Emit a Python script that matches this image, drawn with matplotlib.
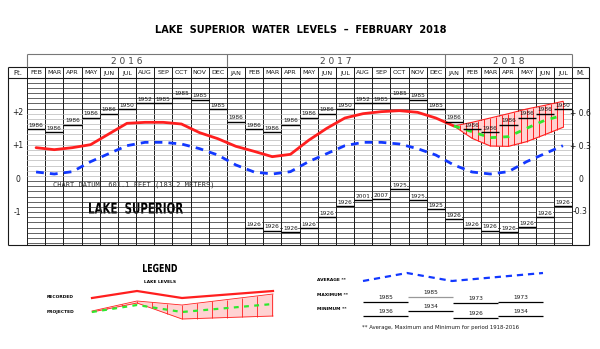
import numpy as np
import matplotlib
matplotlib.use("Agg")
import matplotlib.pyplot as plt
from matplotlib.transforms import blended_transform_factory, Affine2D
from matplotlib.textpath import TextPath
from matplotlib.patches import PathPatch
from matplotlib.font_manager import FontProperties

# --- data (feet above chart datum) -----------------------------------

MONTHS = ["FEB", "MAR", "APR", "MAY", "JUN", "JUL", "AUG", "SEP", "OCT", "NOV", "DEC",
          "JAN", "FEB", "MAR", "APR", "MAY", "JUN", "JUL", "AUG", "SEP", "OCT", "NOV", "DEC",
          "JAN", "FEB", "MAR", "APR", "MAY", "JUN", "JUL"]
YEARS = ["2 0 1 6", "2 0 1 7", "2 0 1 8"]
YEAR_COLS = [11, 12, 7]

# monthly mean levels, FEB 2016 .. JAN 2018
recorded = [0.94, 0.88, 0.94, 1.03, 1.35, 1.67, 1.70, 1.70, 1.65, 1.39, 1.21,
            0.98, 0.83, 0.67, 0.74, 1.16, 1.52, 1.83, 1.96, 2.02, 2.05, 2.00, 1.83,
            1.59]

# long-term average, one value per column
average = [0.21, 0.15, 0.22, 0.52, 0.76, 1.00, 1.10, 1.10, 1.05, 0.91, 0.72,
           0.42, 0.21, 0.15, 0.22, 0.52, 0.76, 1.00, 1.10, 1.10, 1.05, 0.91, 0.72,
           0.42, 0.21, 0.15, 0.22, 0.52, 0.76, 1.00]

# 6-month outlook, JAN 2018 .. JUL 2018
proj_mid = [1.59, 1.42, 1.24, 1.27, 1.52, 1.76, 1.91]
proj_hi = [1.59, 1.70, 1.83, 1.96, 2.10, 2.21, 2.33]
proj_lo = [1.59, 1.22, 0.99, 0.98, 1.12, 1.33, 1.55]

max_level = [1.50, 1.40, 1.63, 1.84, 1.96, 2.10, 2.27, 2.27, 2.44, 2.38, 2.10,
             1.72, 1.50, 1.40, 1.63, 1.84, 1.96, 2.10, 2.27, 2.27, 2.44, 2.38, 2.10,
             1.72, 1.50, 1.40, 1.63, 1.84, 1.96, 2.10]
max_year = ["1986", "1986", "1986", "1986", "1986", "1950", "1952", "1985", "1985", "1985", "1985",
            "1986", "1986", "1986", "1986", "1986", "1986", "1950", "1952", "1985", "1985", "1985", "1985",
            "1986", "1986", "1986", "1986", "1986", "1986", "1950"]

# minimum records are only printed from FEB 2017 on
min_first_col = 12
min_level = [-1.48, -1.55, -1.60, -1.48, -1.15, -0.82, -0.64, -0.61, -0.30, -0.64, -0.91,
             -1.21, -1.48, -1.55, -1.60, -1.45, -1.15, -0.82]
min_year = ["1926", "1926", "1926", "1926", "1926", "1926", "2001", "2007", "1925", "1925", "1925",
            "1926", "1926", "1926", "1926", "1926", "1926", "1926"]

FT_TICKS = [2, 1, 0, -1]
FT_LABELS = ["+2", "+1", "0", "-1"]
M_TICKS = [0.6, 0.3, 0.0, -0.3]
M_LABELS = ["+ 0.6", "+ 0.3", "0", "-0.3"]

# legend samples
leg_x = [92, 137, 182, 273]
leg_rec = [298, 291, 298, 291]
leg_hi = [311, 301, 305, 294]
leg_lo = [312, 303, 319, 316]
leg_mid = [312, 305, 312, 304]

key_x = [363, 407, 452, 543]
key_avg = [281, 273, 281, 273]
key_max = [302, 297, 303, 302]
key_max_year = ["1985", "1985", "1973", "1973"]
key_min = [316, 311, 318, 316]
key_min_year = ["1936", "1934", "1926", "1934"]

# --- layout (pixels) -------------------------------------------------
W, H = 600, 349
X0, X1 = 27, 572           # plot columns
XL, XR = 8, 589            # outer frame incl. Ft / M columns
Y_YEAR, Y_HEAD, Y_TOP, Y_BOT = 54, 67, 78, 245
NCOL = len(MONTHS)
COLW = (X1 - X0) / NCOL

RED = "#ff1f1f"
BLUE = "#1238ff"
GREEN = "#2ee82e"
INK = "#1a1a1a"
YR_FS = 4.2


def squeezed(ax, x, y, s, width, cap):
    # bold text forced into a given box (pixels, y pointing down), left/middle anchored
    tp = TextPath((0, 0), s, size=1, prop=FontProperties(family="DejaVu Sans", weight="bold"))
    ext = tp.get_extents()
    sx = width / ext.width
    sy = cap / 0.73
    tr = Affine2D().translate(-ext.x0, 0).scale(sx, -sy).translate(x, y + cap / 2)
    ax.add_patch(PathPatch(tr.transform_path(tp), fc="black", ec="none"))


fig = plt.figure(figsize=(W / 100, H / 100), dpi=100)
bg = fig.add_axes([0, 0, 1, 1])
bg.set_xlim(0, W)
bg.set_ylim(H, 0)
bg.axis("off")

ax = fig.add_axes([X0 / W, (H - Y_BOT) / H, (X1 - X0) / W, (Y_BOT - Y_TOP) / H])
ax.set_xlim(0, NCOL)
ax.set_ylim(-1.98, 3.03)
ax.axis("off")
ax.patch.set_alpha(0)

# horizontal rulings
for y in np.arange(-1.92, 3.0, 0.155):
    c = "#b8b8b8" if 0 < y < 2 else "#262626"
    ax.axhline(y, color=c, lw=0.5, zorder=1)

# frame and column rules
bg.hlines([Y_HEAD, Y_TOP, Y_BOT], XL, XR, color=INK, lw=0.8)
bg.hlines(Y_YEAR, X0, X1, color="#777777", lw=0.8)
bg.vlines([XL, XR], Y_HEAD, Y_BOT, color=INK, lw=0.8)
for i in range(NCOL + 1):
    bg.vlines(X0 + i * COLW, Y_HEAD, Y_BOT, color=INK, lw=0.7)
edges = np.cumsum([0] + YEAR_COLS)
for e in edges:
    bg.vlines(X0 + e * COLW, Y_YEAR, Y_HEAD, color="#777777", lw=0.8)

# header text
for k, lab in enumerate(YEARS):
    xc = X0 + (edges[k] + edges[k + 1]) / 2 * COLW
    bg.text(xc, (Y_YEAR + Y_HEAD) / 2 + 0.5, lab, ha="center", va="center",
            fontsize=6.5, color="#444444")
for i, m in enumerate(MONTHS):
    bg.text(X0 + (i + 0.5) * COLW, (Y_HEAD + Y_TOP) / 2 + 0.5, m, ha="center",
            va="center", fontsize=4.6, color=INK)
bg.text((XL + X0) / 2, (Y_HEAD + Y_TOP) / 2 + 0.5, "Ft.", ha="center", va="center",
        fontsize=5, color=INK)
bg.text((X1 + XR) / 2, (Y_HEAD + Y_TOP) / 2 + 0.5, "M.", ha="center", va="center",
        fontsize=5, color=INK)

side = blended_transform_factory(bg.transData, ax.transData)
for v, lab in zip(FT_TICKS, FT_LABELS):
    ax.text((XL + X0) / 2, v, lab, transform=side, ha="center", va="center",
            fontsize=5.5, color=INK)
for v, lab in zip(M_TICKS, M_LABELS):
    ax.text((X1 + XR) / 2, v / 0.3048, lab, transform=side, ha="center", va="center",
            fontsize=5.5, color=INK)

bg.text(301, 30, "LAKE  SUPERIOR  WATER  LEVELS  \u2013  FEBRUARY  2018", ha="center",
        va="center", fontsize=7.0, fontweight="bold", color="black")

ax.text(1.45, -0.17, "CHART DATUM  601.1 FEET (183.2 METERS)", ha="left", va="center",
        family="DejaVu Sans Mono", fontsize=5.0, color="#333333")
squeezed(bg, 89, 208, "LAKE  SUPERIOR", 94, 11)

# --- series ----------------------------------------------------------
xc = np.arange(NCOL) + 0.5
ax.plot(xc[:len(recorded)], recorded, color=RED, lw=2.0, zorder=4, solid_capstyle="round")
ax.plot(xc, average, color=BLUE, lw=2.0, dashes=(2.8, 2.2), zorder=4)

xp = xc[len(recorded) - 1:]
ax.fill_between(xp, proj_lo, proj_hi, color="#ffd2d2", lw=0, zorder=2)
ax.plot(xp, proj_hi, color=RED, lw=0.8, zorder=3)
ax.plot(xp, proj_lo, color=RED, lw=0.8, zorder=3)
hx = np.arange(xp[0], xp[-1] + 1e-6, 1 / 3)
ax.vlines(hx, np.interp(hx, xp, proj_lo), np.interp(hx, xp, proj_hi),
          color=RED, lw=0.7, zorder=3)
ax.plot(xp, proj_mid, color=GREEN, lw=2.0, dashes=(2.2, 2.4), zorder=4)

# record highs / lows: bar across the month, year printed on top
for i in range(NCOL):
    ax.hlines(max_level[i], i, i + 1, color="black", lw=1.0, zorder=5)
    ax.annotate(max_year[i], (i + 0.5, max_level[i]), xytext=(0, 1),
                textcoords="offset points", ha="center", va="bottom",
                fontsize=YR_FS, color=INK, zorder=6)
for j, (lv, yr) in enumerate(zip(min_level, min_year)):
    i = min_first_col + j
    ax.hlines(lv, i, i + 1, color="black", lw=1.0, zorder=5)
    ax.annotate(yr, (i + 0.5, lv), xytext=(0, 1), textcoords="offset points",
                ha="center", va="bottom", fontsize=YR_FS, color=INK, zorder=6,
                bbox=dict(fc="white", ec="none", pad=0.3))

# --- legend ----------------------------------------------------------
squeezed(bg, 143, 268, "LEGEND", 34, 8)
bg.text(160, 282, "LAKE LEVELS", ha="center", va="center", fontsize=3.2,
        fontweight="bold")
bg.text(47, 297, "RECORDED", ha="left", va="center", fontsize=3.2, fontweight="bold")
bg.text(47, 312, "PROJECTED", ha="left", va="center", fontsize=3.2, fontweight="bold")

bg.plot(leg_x, leg_rec, color=RED, lw=1.6)
bg.fill_between(leg_x, leg_hi, leg_lo, color="#ffd2d2", lw=0)
bg.plot(leg_x, leg_hi, color=RED, lw=0.6)
bg.plot(leg_x, leg_lo, color=RED, lw=0.6)
lx = np.arange(leg_x[0], leg_x[-1] + 1, 15)
bg.vlines(lx, np.interp(lx, leg_x, leg_hi), np.interp(lx, leg_x, leg_lo), color=RED, lw=0.6)
bg.plot(leg_x, leg_mid, color=GREEN, lw=1.6, dashes=(2.2, 2.4))

bg.text(317, 280, "AVERAGE **", ha="left", va="center", fontsize=3.2, fontweight="bold")
bg.text(317, 295, "MAXIMUM **", ha="left", va="center", fontsize=3.2, fontweight="bold")
bg.text(317, 309, "MINIMUM **", ha="left", va="center", fontsize=3.2, fontweight="bold")
bg.plot(key_x, key_avg, color=BLUE, lw=1.6, dashes=(2.8, 2.2))
for k in range(4):
    a, b = key_x[0] + k * 45, key_x[0] + (k + 1) * 45
    c = "#999999" if k == 1 else "black"
    bg.hlines(key_max[k], a, b, color=c, lw=0.9)
    bg.text((a + b) / 2, key_max[k] - 2, key_max_year[k], ha="center", va="bottom",
            fontsize=4.2, color=INK)
    bg.hlines(key_min[k], a, b, color="black", lw=0.9)
    bg.text((a + b) / 2, key_min[k] - 2, key_min_year[k], ha="center", va="bottom",
            fontsize=4.2, color=INK)
bg.text(362, 327, "** Average, Maximum and Minimum for period 1918-2016", ha="left",
        va="center", fontsize=3.9, color=INK)

fig.savefig("out.png", dpi=100)
